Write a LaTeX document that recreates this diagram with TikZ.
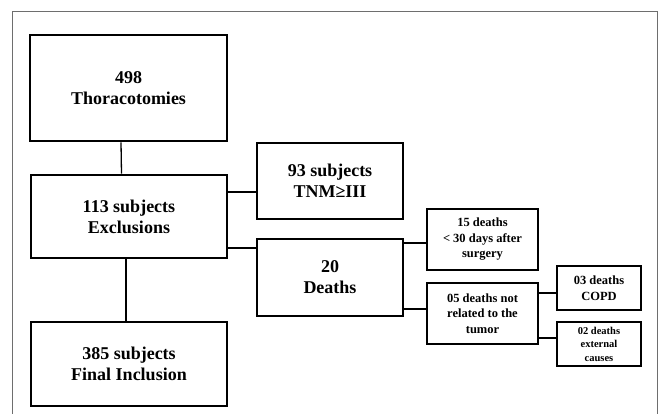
\documentclass[tikz,border=0pt]{standalone}
\usepackage{fontspec}
\setmainfont{Liberation Serif}
\usepackage{tikz}
\usetikzlibrary{positioning}
\definecolor{frame}{HTML}{6E6E6E}

\begin{document}
\begin{tikzpicture}[x=1pt, y=-1pt,
    bigbox/.style={draw, line width=2.6pt, align=center, inner sep=0pt,
        font=\bfseries\fontsize{18}{21}\selectfont},
    midbox/.style={bigbox, line width=2.2pt, font=\bfseries\fontsize{12.5}{15.5}\selectfont},
    tinybox/.style={midbox, font=\bfseries\fontsize{10.5}{13.5}\selectfont},
    link/.style={line width=1.3pt}]
    \useasboundingbox (0,0) rectangle (659,414);
    \draw[frame, line width=0.9pt] (12,414) -- (12,11) -- (657,11) -- (657,414);
    % left column
    \node[bigbox, minimum width=197pt, minimum height=106pt] (thor) at (128.5,88)
        {498\\Thoracotomies};
    \node[bigbox, minimum width=196pt, minimum height=83pt] (excl) at (129,216.5)
        {113 subjects\\Exclusions};
    \node[bigbox, minimum width=196pt, minimum height=84pt] (incl) at (129,364)
        {385 subjects\\Final Inclusion};
    % exclusions
    \node[bigbox, minimum width=146pt, minimum height=76pt] (tnm) at (330,181)
        {93 subjects\\TNM≥III};
    \node[bigbox, minimum width=146pt, minimum height=77pt] (deaths) at (330,277.5)
        {20\\Deaths};
    % deaths
    \node[midbox, minimum width=111pt, minimum height=61pt] (early) at (482.5,239.5)
        {15 deaths\\< 30 days after\\surgery};
    \node[midbox, minimum width=111pt, minimum height=61pt] (late) at (482.5,313.5)
        {05 deaths not\\related to the\\tumor};
    \node[midbox, minimum width=84pt, minimum height=44pt] (copd) at (599,288)
        {03 deaths\\COPD};
    \node[tinybox, minimum width=84pt, minimum height=44pt] (ext) at (599,344)
        {02 deaths\\external\\causes};

    \draw[link] ([xshift=-7.5pt]thor.south) -- ([xshift=-7.5pt]excl.north);
    \draw[link] ([xshift=-3pt]excl.south) -- ([xshift=-3pt]incl.north);
    \draw[link] ([yshift=-11pt]tnm.west -| excl.east) -- ([yshift=-11pt]tnm.west);
    \draw[link] ([yshift=29.5pt]deaths.west -| excl.east) -- ([yshift=29.5pt]deaths.west);
    \draw[link] ([yshift=-3.5pt]early.west -| deaths.east) -- ([yshift=-3.5pt]early.west);
    \draw[link] ([yshift=4.5pt]late.west -| deaths.east) -- ([yshift=4.5pt]late.west);
    \draw[link] ([yshift=-5pt]copd.west -| late.east) -- ([yshift=-5pt]copd.west);
    \draw[link] ([yshift=6pt]ext.west -| late.east) -- ([yshift=6pt]ext.west);
\end{tikzpicture}
\end{document}
